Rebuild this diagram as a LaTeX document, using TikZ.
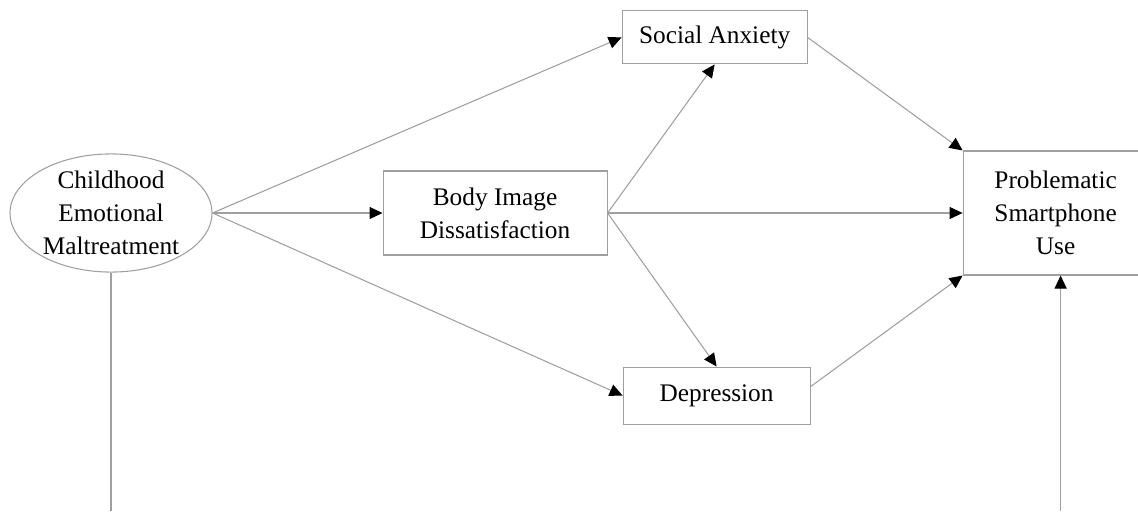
\documentclass[tikz,border=0pt]{standalone}
\usepackage{fontspec}
\setmainfont{Liberation Serif}
\usetikzlibrary{positioning,arrows.meta,shapes.geometric}

\begin{document}
\begin{tikzpicture}[
  node distance = 3.4cm,
  box/.style    = {draw=gray!75, line width=0.6pt, align=center,
                   font=\fontsize{14.4}{18.7}\selectfont, inner sep=2pt},
  latent/.style = {box, ellipse, minimum width=4.04cm, minimum height=2.28cm, inner sep=0pt},
  arr/.style    = {-{Triangle[length=2.6mm, width=2.4mm, color=black]}, line width=0.6pt, gray!75},
]
\useasboundingbox (0,0) rectangle (22.76,-10.22);

\node[latent] (cem) at (2.22,-4.26) {Childhood\\ Emotional\\ Maltreatment};
\node[box, minimum width=4.48cm, minimum height=1.68cm, right=of cem] (bid) {Body Image\\ Dissatisfaction};
\node[box, minimum width=3.70cm, minimum height=1.06cm, above right=2.12cm and 0.28cm of bid] (sa) {Social Anxiety};
\node[box, minimum width=3.74cm, minimum height=1.14cm, below right=2.22cm and 0.30cm of bid] (dep) {Depression};
\node[box, minimum width=3.70cm, minimum height=2.48cm, right=7.10cm of bid] (psu) {Problematic\\ Smartphone\\ Use};

\coordinate (cembot) at (cem.south |- 0,-10.22);
\coordinate (psubot) at ([xshift=1mm]psu.south |- cembot);

\draw[arr] (cem.east) -- (sa.west);
\draw[arr] (cem.east) -- (bid.west);
\draw[arr] (cem.east) -- (dep.west);
\draw[arr] (bid.east) -- (sa.south);
\draw[arr] (bid.east) -- (dep.north);
\draw[arr] (bid.east) -- (psu.west);
\draw[arr] (sa.east) -- (psu.north west);
\draw[arr] ([yshift=1.8mm]dep.east) -- (psu.south west);
\draw[line width=0.6pt, gray!75] (cem.south) -- (cembot);
\draw[arr] (psubot) -- (psubot |- psu.south);

\end{tikzpicture}
\end{document}
